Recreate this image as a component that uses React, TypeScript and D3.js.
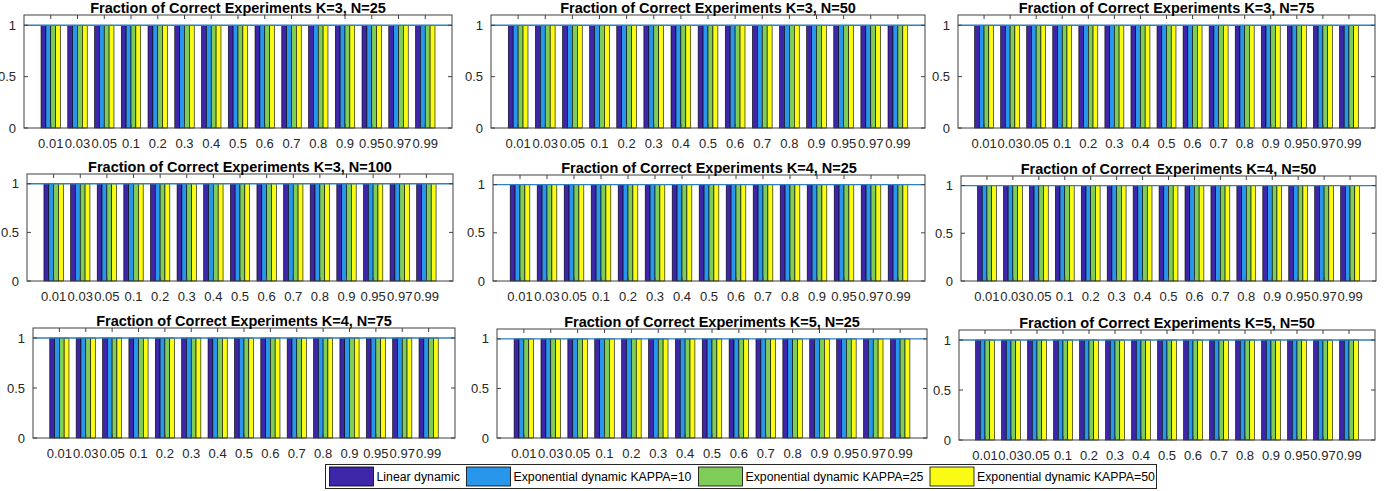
import React from 'react';
import * as d3 from 'd3';

// categories on the x axis (decay parameter)
const categories = ['0.01', '0.03', '0.05', '0.1', '0.2', '0.3', '0.4', '0.5', '0.6', '0.7', '0.8', '0.9', '0.95', '0.97', '0.99'];
const seriesNames = ['Linear dynamic', 'Exponential dynamic KAPPA=10', 'Exponential dynamic KAPPA=25', 'Exponential dynamic KAPPA=50'];
const seriesColors = ['#3e26a8', '#2796eb', '#80cc59', '#f9fb15'];
const yTicks = [0, 0.5, 1];

const panelTitles = [
  'Fraction of Correct Experiments K=3, N=25',
  'Fraction of Correct Experiments K=3, N=50',
  'Fraction of Correct Experiments K=3, N=75',
  'Fraction of Correct Experiments K=3, N=100',
  'Fraction of Correct Experiments K=4, N=25',
  'Fraction of Correct Experiments K=4, N=50',
  'Fraction of Correct Experiments K=4, N=75',
  'Fraction of Correct Experiments K=5, N=25',
  'Fraction of Correct Experiments K=5, N=50',
];

// fraction of correct experiments, one row per series
const k3n25 = [
  [1, 1, 1, 1, 1, 1, 1, 1, 1, 1, 1, 1, 1, 1, 1],
  [1, 1, 1, 1, 1, 1, 1, 1, 1, 1, 1, 1, 1, 1, 1],
  [1, 1, 1, 1, 1, 1, 1, 1, 1, 1, 1, 1, 1, 1, 1],
  [1, 1, 1, 1, 1, 1, 1, 1, 1, 1, 1, 1, 1, 1, 1],
];
const k3n50 = [
  [1, 1, 1, 1, 1, 1, 1, 1, 1, 1, 1, 1, 1, 1, 1],
  [1, 1, 1, 1, 1, 1, 1, 1, 1, 1, 1, 1, 1, 1, 1],
  [1, 1, 1, 1, 1, 1, 1, 1, 1, 1, 1, 1, 1, 1, 1],
  [1, 1, 1, 1, 1, 1, 1, 1, 1, 1, 1, 1, 1, 1, 1],
];
const k3n75 = [
  [1, 1, 1, 1, 1, 1, 1, 1, 1, 1, 1, 1, 1, 1, 1],
  [1, 1, 1, 1, 1, 1, 1, 1, 1, 1, 1, 1, 1, 1, 1],
  [1, 1, 1, 1, 1, 1, 1, 1, 1, 1, 1, 1, 1, 1, 1],
  [1, 1, 1, 1, 1, 1, 1, 1, 1, 1, 1, 1, 1, 1, 1],
];
const k3n100 = [
  [1, 1, 1, 1, 1, 1, 1, 1, 1, 1, 1, 1, 1, 1, 1],
  [1, 1, 1, 1, 1, 1, 1, 1, 1, 1, 1, 1, 1, 1, 1],
  [1, 1, 1, 1, 1, 1, 1, 1, 1, 1, 1, 1, 1, 1, 1],
  [1, 1, 1, 1, 1, 1, 1, 1, 1, 1, 1, 1, 1, 1, 1],
];
const k4n25 = [
  [1, 1, 1, 1, 1, 1, 1, 1, 1, 1, 1, 1, 1, 1, 1],
  [1, 1, 1, 1, 1, 1, 1, 1, 1, 1, 1, 1, 1, 1, 1],
  [1, 1, 1, 1, 1, 1, 1, 1, 1, 1, 1, 1, 1, 1, 1],
  [1, 1, 1, 1, 1, 1, 1, 1, 1, 1, 1, 1, 1, 1, 1],
];
const k4n50 = [
  [1, 1, 1, 1, 1, 1, 1, 1, 1, 1, 1, 1, 1, 1, 1],
  [1, 1, 1, 1, 1, 1, 1, 1, 1, 1, 1, 1, 1, 1, 1],
  [1, 1, 1, 1, 1, 1, 1, 1, 1, 1, 1, 1, 1, 1, 1],
  [1, 1, 1, 1, 1, 1, 1, 1, 1, 1, 1, 1, 1, 1, 1],
];
const k4n75 = [
  [1, 1, 1, 1, 1, 1, 1, 1, 1, 1, 1, 1, 1, 1, 1],
  [1, 1, 1, 1, 1, 1, 1, 1, 1, 1, 1, 1, 1, 1, 1],
  [1, 1, 1, 1, 1, 1, 1, 1, 1, 1, 1, 1, 1, 1, 1],
  [1, 1, 1, 1, 1, 1, 1, 1, 1, 1, 1, 1, 1, 1, 1],
];
const k5n25 = [
  [1, 1, 1, 1, 1, 1, 1, 1, 1, 1, 1, 1, 1, 1, 1],
  [1, 1, 1, 1, 1, 1, 1, 1, 1, 1, 1, 1, 1, 1, 1],
  [1, 1, 1, 1, 1, 1, 1, 1, 1, 1, 1, 1, 1, 1, 1],
  [1, 1, 1, 1, 1, 1, 1, 1, 1, 1, 1, 1, 1, 1, 1],
];
const k5n50 = [
  [1, 1, 1, 1, 1, 1, 1, 1, 1, 1, 1, 1, 1, 1, 1],
  [1, 1, 1, 1, 1, 1, 1, 1, 1, 1, 1, 1, 1, 1, 1],
  [1, 1, 1, 1, 1, 1, 1, 1, 1, 1, 1, 1, 1, 1, 1],
  [1, 1, 1, 1, 1, 1, 1, 1, 1, 1, 1, 1, 1, 1, 1],
];

const panelData = [k3n25, k3n50, k3n75, k3n100, k4n25, k4n50, k4n75, k5n25, k5n50];

// axes boxes [left, right, top, bottom] in pixels
const panelBoxes = [
  [24, 452, 15, 128],
  [491, 925, 15, 128],
  [958, 1375, 15, 128],
  [27, 453, 174, 281],
  [493, 925, 175, 281],
  [961, 1376, 176, 281],
  [33, 455, 328, 438],
  [497, 927, 329, 438],
  [959, 1375, 330, 440],
];

const FONT = '"Liberation Sans", Arial, Helvetica, sans-serif';
const AXIS = '#404040';
const REF_LINE = '#2f80c0';

const Panel: React.FC<{ box: number[]; title: string; data: number[][] }> = ({ box, title, data }) => {
  const [left, right, top, bottom] = box;
  const x = d3.scaleLinear().domain([0, categories.length + 1]).range([left, right]);
  const y = d3.scaleLinear().domain([0, 1.1]).range([bottom, top]);
  const n = seriesNames.length;
  const groupWidth = Math.min(0.8, n / (n + 1.5));
  const inner = d3.scaleBand<number>()
    .domain(d3.range(n))
    .range([-groupWidth / 2, groupWidth / 2]);
  const tick = 4;

  return (
    <g>
      <rect x={left} y={top} width={right - left} height={bottom - top} fill="#fff" />
      {data.map((vals, s) =>
        vals.map((v, i) => {
          const x0 = x(i + 1 + (inner(s) as number));
          const x1 = x(i + 1 + (inner(s) as number) + inner.bandwidth());
          return (
            <rect
              key={`${s}-${i}`}
              x={x0}
              y={y(v)}
              width={x1 - x0}
              height={y(0) - y(v)}
              fill={seriesColors[s]}
              stroke="#000"
              strokeWidth={0.6}
            />
          );
        })
      )}
      <line x1={left} x2={right} y1={y(1)} y2={y(1)} stroke={REF_LINE} strokeWidth={1.3} />
      <rect x={left} y={top} width={right - left} height={bottom - top} fill="none" stroke={AXIS} strokeWidth={1} />
      {categories.map((c, i) => (
        <g key={c}>
          <line x1={x(i + 1)} x2={x(i + 1)} y1={bottom} y2={bottom - tick} stroke={AXIS} />
          <line x1={x(i + 1)} x2={x(i + 1)} y1={top} y2={top + tick} stroke={AXIS} />
          <text x={x(i + 1)} y={bottom + 19.5} textAnchor="middle" fontSize={13} fontFamily={FONT} fill="#262626">
            {c}
          </text>
        </g>
      ))}
      {yTicks.map((t) => (
        <g key={t}>
          <line x1={left} x2={left + tick} y1={y(t)} y2={y(t)} stroke={AXIS} />
          <line x1={right} x2={right - tick} y1={y(t)} y2={y(t)} stroke={AXIS} />
          <text x={left - 8} y={y(t)} dy="0.35em" textAnchor="end" fontSize={13} fontFamily={FONT} fill="#262626">
            {t}
          </text>
        </g>
      ))}
      <text x={(left + right) / 2} y={top - 2.5} textAnchor="middle" fontSize={14.5} fontWeight="bold" fontFamily={FONT} fill="#000">
        {title}
      </text>
    </g>
  );
};

const legendX = [329.5, 466.5, 698.5, 930];

const App: React.FC = () => {
  return (
    <svg
      width={1400}
      height={491}
      style={{ position: 'absolute', left: 0, top: 0, background: '#fff' }}
    >
      <rect width={1400} height={491} fill="#fff" />
      {panelBoxes.map((b, p) => (
        <Panel key={p} box={b} title={panelTitles[p]} data={panelData[p]} />
      ))}
      <g>
        <rect x={325.5} y={464.5} width={831} height={24} fill="#fff" stroke="#262626" strokeWidth={1} />
        {seriesNames.map((name, s) => (
          <g key={name}>
            <rect x={legendX[s]} y={467} width={44} height={19} fill={seriesColors[s]} stroke="#000" strokeWidth={0.8} />
            <text x={legendX[s] + 47} y={476.5} dy="0.35em" fontSize={12.3} fontFamily={FONT} fill="#000">
              {name}
            </text>
          </g>
        ))}
      </g>
    </svg>
  );
};

export default App;
